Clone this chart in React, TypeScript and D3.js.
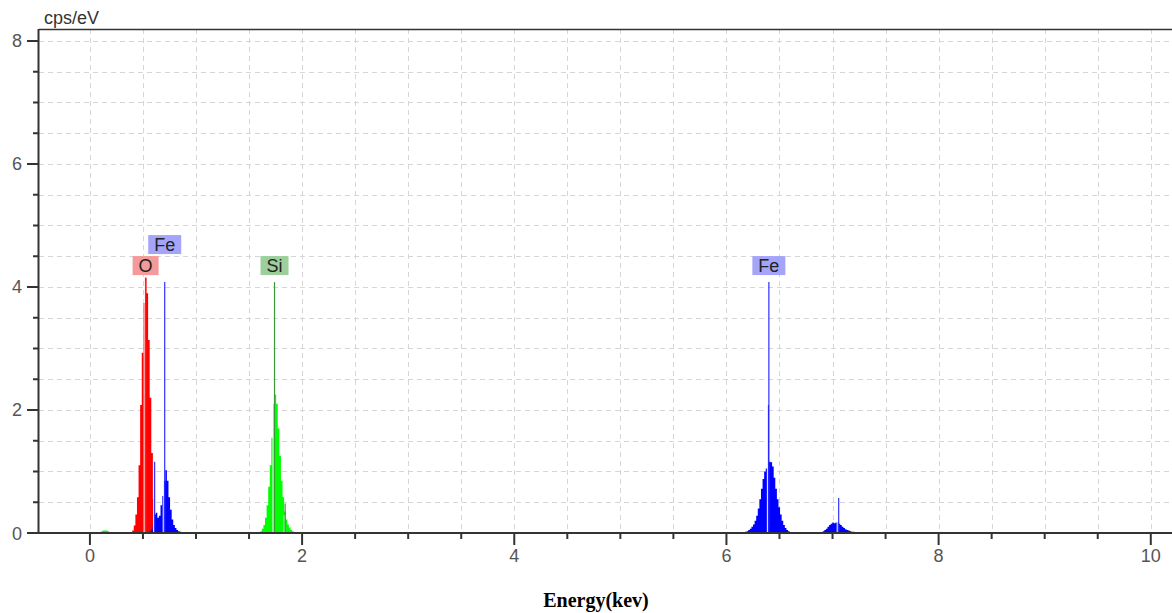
import React, { useMemo } from 'react';
import * as d3 from 'd3';

// EDS spectrum, channels of 15 eV
const CHANNEL = 0.015;

const xTickLabels = [0, 2, 4, 6, 8, 10];
const yTickLabels = [0, 2, 4, 6, 8];

// per peak: first channel energy (keV) and counts (cps/eV)
const cStart = 0.113;
const cValues = [0.03, 0.04, 0.04, 0.04, 0.03];

const oStart = 0.406;
const oValues = [0.04, 0.12, 0.3, 0.58, 1.1, 2.08, 2.93, 3.74, 4.15, 3.9, 3.14, 2.2, 1.3, 0.55, 0.2, 0.05];

const feLStart = 0.568;
const feLValues = [0.03, 0.06, 0.12, 0.3, 0.33, 0.25, 0.28, 0.45, 0.6, 0.85, 1.02, 0.85, 0.58, 0.38, 0.22, 0.13, 0.08, 0.05, 0.03, 0.02];

const siStart = 1.613;
const siValues = [0.03, 0.07, 0.13, 0.25, 0.45, 0.75, 1.1, 1.55, 2.1, 2.25, 2.1, 1.7, 1.25, 0.85, 0.58, 0.35, 0.22, 0.14, 0.09, 0.05, 0.03];

const feKaStart = 6.183;
const feKaValues = [0.02, 0.03, 0.05, 0.07, 0.1, 0.14, 0.2, 0.28, 0.4, 0.55, 0.72, 0.88, 1.0, 1.05, 2.08, 1.16, 1.15, 1.08, 0.9, 0.72, 0.55, 0.42, 0.3, 0.2, 0.13, 0.08, 0.05, 0.03];

const feKbStart = 6.915;
const feKbValues = [0.03, 0.05, 0.07, 0.1, 0.13, 0.15, 0.17, 0.16, 0.17, 0.17, 0.15, 0.13, 0.1, 0.08, 0.06, 0.05, 0.04, 0.03, 0.02, 0.02];

// element line markers
const markerEnergies = [0.525, 0.705, 1.74, 6.4, 7.058];
const markerHeights = [4.15, 4.08, 4.08, 4.08, 0.57];
const markerElements = ['O', 'Fe', 'Si', 'Fe', 'Fe'];

// narrow spikes in the spectrum
const spikeEnergies = [0.61, 1.84];
const spikeHeights = [1.16, 0.48];
const spikeElements = ['Fe', 'Si'];

// labels (index into markers), level = stacked row
const labelMarkers = [0, 1, 2, 3];
const labelLevels = [0, 1, 0, 0];

const colors = {
  C: '#00ff00',
  O: '#ff0000',
  Fe: '#0000ff',
  Si: '#00ff00',
};
const markerColors = {
  O: '#ff2020',
  Fe: '#3030ff',
  Si: '#3a9a3a',
};
const labelFills = {
  O: '#f49a9a',
  Fe: '#a4a4f8',
  Si: '#9ccf9c',
};

const peaks = [
  { el: 'C', start: cStart, values: cValues },
  { el: 'O', start: oStart, values: oValues },
  { el: 'Fe', start: feLStart, values: feLValues },
  { el: 'Si', start: siStart, values: siValues },
  { el: 'Fe', start: feKaStart, values: feKaValues },
  { el: 'Fe', start: feKbStart, values: feKbValues },
];

const WIDTH = 1172;
const HEIGHT = 613;
const margin = { top: 29, right: 0, bottom: 80, left: 39 };
const FONT = '"Liberation Sans", Arial, sans-serif';

function measure(text, size) {
  const ctx = document.createElement('canvas').getContext('2d');
  if (!ctx) return text.length * size * 0.6;
  ctx.font = size + 'px ' + FONT;
  return ctx.measureText(text).width;
}

export default function App() {
  const x = d3
    .scaleLinear()
    .domain([-0.48, 10.2])
    .range([margin.left, WIDTH - margin.right]);
  const y = d3
    .scaleLinear()
    .domain([0, 8.195])
    .range([HEIGHT - margin.bottom, margin.top]);

  const area = d3
    .area()
    .x(d => x(d[0]))
    .y0(y(0))
    .y1(d => y(d[1]))
    .curve(d3.curveStepAfter);

  const paths = useMemo(
    () =>
      peaks.map(p => {
        const pts = p.values.map((v, i) => [p.start + (i - 0.5) * CHANNEL, v]);
        const last = pts[pts.length - 1];
        pts.push([last[0] + CHANNEL, last[1]]);
        return { el: p.el, d: area(pts) };
      }),
    []
  );

  const gridX = d3.range(0, 10.01, 0.5);
  const gridY = d3.range(0.5, 8.01, 0.5);
  const minorX = d3.range(0, 10.01, 0.5).filter(v => v % 2 !== 0);
  const minorY = d3.range(0.5, 8.01, 0.5).filter(v => v % 2 !== 0);

  const x0 = margin.left;
  const x1 = WIDTH - margin.right;
  const yb = y(0);
  const yt = margin.top;

  return (
    <svg
      width={WIDTH}
      height={HEIGHT}
      style={{ position: 'absolute', left: 0, top: 0, background: '#fff' }}
      fontFamily={FONT}
    >
      {/* grid */}
      <g stroke="#d6d6d6" strokeDasharray="5,4" strokeWidth={1}>
        {gridY.map(v => (
          <line key={'gy' + v} x1={x0} x2={x1} y1={Math.round(y(v)) + 0.5} y2={Math.round(y(v)) + 0.5} />
        ))}
        {gridX.map(v => (
          <line key={'gx' + v} x1={Math.round(x(v)) + 0.5} x2={Math.round(x(v)) + 0.5} y1={yt} y2={yb} />
        ))}
      </g>

      {/* spectrum */}
      {paths.map((p, i) => (
        <path key={i} d={p.d} fill={colors[p.el]} stroke="none" />
      ))}

      {/* spikes */}
      {spikeEnergies.map((e, i) => (
        <g key={'s' + i}>
          <line x1={x(e) - 1} x2={x(e) - 1} y1={yb} y2={y(spikeHeights[i] * 0.6)} stroke="#fff" strokeWidth={1} />
          <line x1={x(e)} x2={x(e)} y1={yb} y2={y(spikeHeights[i])} stroke={markerColors[spikeElements[i]]} strokeWidth={1.2} />
        </g>
      ))}

      {/* element markers */}
      {markerEnergies.map((e, i) => (
        <g key={'m' + i}>
          <line x1={x(e) - 1.5} x2={x(e) - 1.5} y1={yb} y2={y(Math.min(markerHeights[i], 3.8))} stroke="#fff" strokeWidth={1} />
          <line x1={x(e)} x2={x(e)} y1={yb} y2={y(markerHeights[i])} stroke={markerColors[markerElements[i]]} strokeWidth={1.2} />
        </g>
      ))}

      {/* labels */}
      {labelMarkers.map((m, i) => {
        const el = markerElements[m];
        const w = measure(el, 18) + 12;
        const bottom = y(4.08) - 7 - labelLevels[i] * 21;
        const cx = x(markerEnergies[m]);
        return (
          <g key={'l' + i}>
            <rect x={cx - w / 2} y={bottom - 19} width={w} height={19} fill={labelFills[el]} />
            <text x={cx} y={bottom - 3} textAnchor="middle" fontSize={18} fill="#222">
              {el}
            </text>
          </g>
        );
      })}

      {/* frame */}
      <line x1={x0} x2={x1} y1={yt + 0.5} y2={yt + 0.5} stroke="#333" strokeWidth={1.5} />
      <line x1={x0 - 0.5} x2={x0 - 0.5} y1={yt} y2={yb + 1} stroke="#333" strokeWidth={2} />
      <line x1={x0} x2={x1} y1={yb} y2={yb} stroke="#333" strokeWidth={2} />

      {/* ticks */}
      <g stroke="#333" strokeWidth={2}>
        {xTickLabels.map(v => (
          <line key={'xt' + v} x1={x(v)} x2={x(v)} y1={yb} y2={yb + 12} />
        ))}
        {minorX.map(v => (
          <line key={'xm' + v} x1={x(v)} x2={x(v)} y1={yb} y2={yb + 6} />
        ))}
        {yTickLabels.map(v => (
          <line key={'yt' + v} x1={x0 - 12} x2={x0} y1={y(v)} y2={y(v)} />
        ))}
        {minorY.map(v => (
          <line key={'ym' + v} x1={x0 - 6} x2={x0} y1={y(v)} y2={y(v)} />
        ))}
      </g>
      <g fill="#555" fontSize={18}>
        {xTickLabels.map(v => (
          <text key={'xl' + v} x={x(v)} y={yb + 29} textAnchor="middle">
            {v}
          </text>
        ))}
        {yTickLabels.map(v => (
          <text key={'yl' + v} x={x0 - 17} y={y(v) + 6.5} textAnchor="end">
            {v}
          </text>
        ))}
      </g>

      <text x={44} y={24} fontSize={18} fill="#333">
        cps/eV
      </text>
      <text
        x={596}
        y={607}
        textAnchor="middle"
        fontSize={20}
        fontWeight="bold"
        fontFamily='"Liberation Serif", "Times New Roman", serif'
        fill="#000"
      >
        Energy(kev)
      </text>
    </svg>
  );
}
